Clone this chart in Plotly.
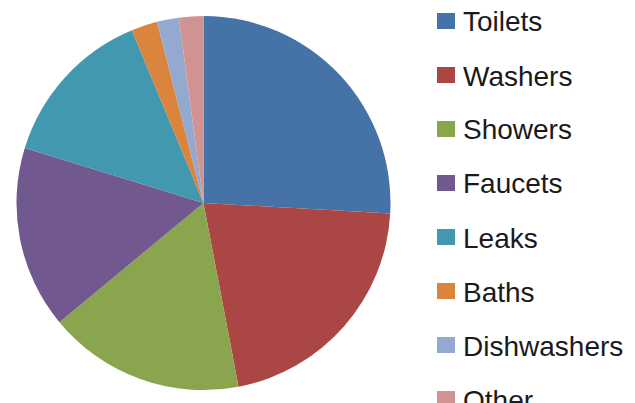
import plotly.graph_objects as go

labels = ["Toilets", "Washers", "Showers", "Faucets", "Leaks", "Baths", "Dishwashers", "Other"]
values = [25.9, 21.1, 17.0, 15.75, 14.0, 2.25, 1.9, 2.1]
colors = ["#4572A7", "#AA4643", "#89A54E", "#71588F", "#4198AF", "#DB843D", "#93A9CF", "#D19392"]

OFF = 8  # page body margin
W, H = 635 - OFF, 403 - OFF
cx, cy, r = 203.5 - OFF, 203.0 - OFF, 187.0

fig = go.Figure()
fig.add_trace(go.Pie(
    labels=labels,
    values=values,
    marker=dict(colors=colors, line=dict(width=0)),
    sort=False,
    direction="clockwise",
    rotation=0,
    textinfo="none",
    hoverinfo="label+percent",
    showlegend=False,
    domain=dict(x=[(cx - r) / W, (cx + r) / W], y=[1 - (cy + r) / H, 1 - (cy - r) / H]),
))

# legend drawn as shapes + annotations
shapes = []
annotations = []
for i, (lab, col) in enumerate(zip(labels, colors)):
    yc = 21 + 54 * i - OFF
    shapes.append(dict(type="rect", xref="paper", yref="paper",
                       x0=(437 - OFF) / W, x1=(455 - OFF) / W,
                       y0=1 - (yc + 8) / H, y1=1 - (yc - 8) / H,
                       fillcolor=col, line=dict(width=0)))
    annotations.append(dict(text=lab, xref="paper", yref="paper", x=(461 - OFF) / W,
                            y=1 - (yc + 1) / H,
                            xanchor="left", yanchor="middle", showarrow=False,
                            font=dict(family="Liberation Sans", size=28, color="#1a1a1a")))

fig.update_layout(
    width=W, height=H,
    margin=dict(l=0, r=0, t=0, b=0),
    paper_bgcolor="white", plot_bgcolor="white",
    shapes=shapes, annotations=annotations,
    showlegend=False,
)

fig.write_html("out.html")
